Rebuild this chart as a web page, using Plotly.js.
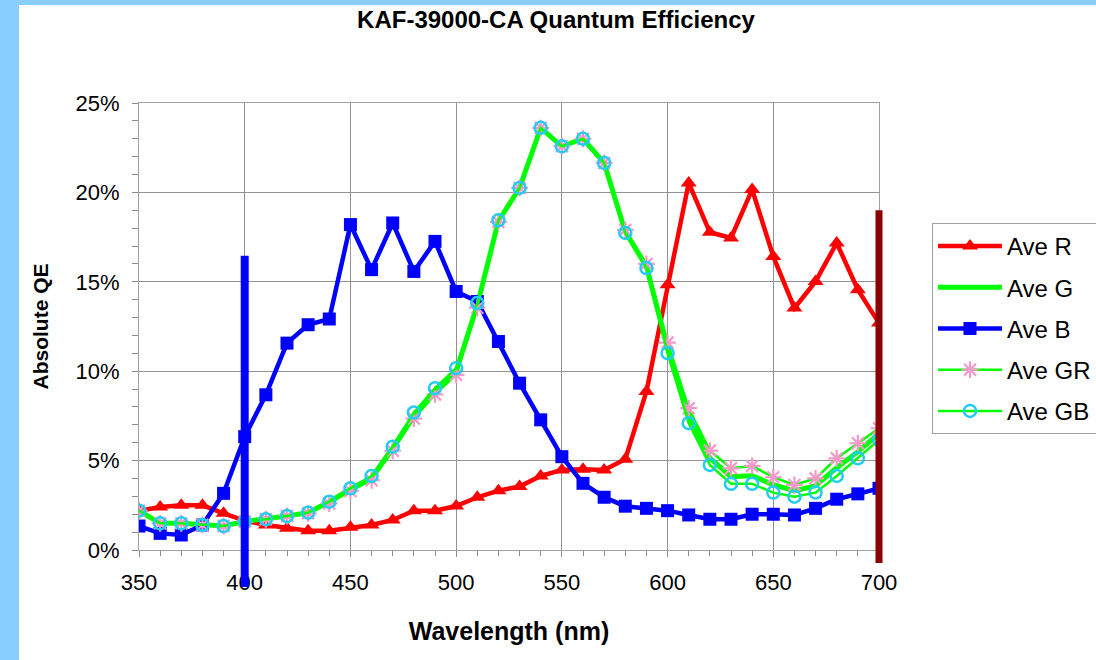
<!DOCTYPE html>
<html><head><meta charset="utf-8">
<script src="https://cdn.plot.ly/plotly-3.0.1.min.js"></script>
<style>
html,body{margin:0;padding:0;width:1096px;height:660px;overflow:hidden;background:#88CEFF;}
#bg{position:absolute;left:19px;top:5px;width:1077px;height:655px;background:#ffffff;}
#chart{position:absolute;left:0;top:0;width:1096px;height:660px;}
</style></head><body>
<div id="bg"></div><div id="chart"></div>
<script>
const wavelength = [350,360,370,380,390,400,410,420,430,440,450,460,470,480,490,500,510,520,530,540,550,560,570,580,590,600,610,620,630,640,650,660,670,680,690,700];
const aveR  = [2.2,2.4,2.5,2.5,2.05,1.64,1.4,1.21,1.08,1.08,1.27,1.4,1.68,2.2,2.2,2.46,2.95,3.32,3.55,4.14,4.48,4.52,4.48,5.08,8.87,14.84,20.53,17.77,17.45,20.16,16.42,13.53,15.02,17.17,14.56,12.69];
const aveG  = [2.2,1.49,1.49,1.4,1.34,1.59,1.72,1.9,2.09,2.7,3.4,4.05,5.7,7.55,8.9,10.0,13.7,18.4,20.25,23.6,22.58,23.0,21.65,17.8,15.85,11.3,7.5,5.15,4.1,4.15,3.65,3.3,3.6,4.6,5.5,6.5];
const aveB  = [1.34,0.93,0.84,1.4,3.17,6.34,8.68,11.57,12.6,12.92,18.2,15.68,18.29,15.58,17.26,14.46,13.9,11.66,9.33,7.28,5.22,3.73,2.95,2.45,2.33,2.2,1.96,1.72,1.72,2.0,2.0,1.96,2.33,2.84,3.14,3.45];
const aveGR = [2.2,1.49,1.49,1.4,1.34,1.59,1.72,1.9,2.05,2.6,3.3,3.9,5.55,7.35,8.7,9.8,13.55,18.35,20.25,23.6,22.58,23.0,21.65,17.9,16.0,11.6,7.93,5.56,4.57,4.7,4.07,3.64,4.01,5.13,5.97,6.81];
const aveGB = [2.2,1.49,1.49,1.4,1.34,1.59,1.72,1.9,2.09,2.7,3.45,4.14,5.78,7.69,9.05,10.17,13.81,18.44,20.25,23.61,22.58,23.0,21.65,17.73,15.77,11.01,7.09,4.76,3.7,3.7,3.21,2.98,3.21,4.14,5.13,6.16];
const seriesNames = ['Ave R','Ave G','Ave B','Ave GR','Ave GB'];
const xTickVals = [350,400,450,500,550,600,650,700];
const yTickVals = [0,5,10,15,20,25];
const yTickText = ['0%','5%','10%','15%','20%','25%'];
const cutoffX = [400,700];
const cutoffTop = [16.45,19.0];
const cutoffBottom = [-2.07,-0.73];

const xRange = [350,700], yRange = [0,25];
const FONT = 'Liberation Sans, Arial, sans-serif';

const traces = [
  {x: wavelength, y: aveR, name: seriesNames[0], legendgroup:'a', mode:'lines+markers',
   line:{color:'#FF0000', width:4.5}, marker:{symbol:'triangle-up', size:14, color:'#FF0000'}},
  {x: wavelength, y: aveG, name: seriesNames[1], legendgroup:'b', mode:'lines',
   line:{color:'#00FF00', width:5}},
  {x: wavelength, y: aveB, name: seriesNames[2], legendgroup:'c', mode:'lines+markers',
   line:{color:'#0000FF', width:4.5}, marker:{symbol:'square', size:13, color:'#0000FF'}},
  {x: wavelength, y: aveGR, name: seriesNames[3], legendgroup:'d', mode:'lines+markers',
   line:{color:'#00FF00', width:2.5}, marker:{symbol:'asterisk-open', size:14, color:'#F59AC8', line:{color:'#F59AC8', width:2.2}}},
  {x: wavelength, y: aveGB, name: seriesNames[4], legendgroup:'e', mode:'lines+markers',
   line:{color:'#00FF00', width:2.5}, marker:{symbol:'circle-open', size:12, color:'#22CCF5', line:{color:'#22CCF5', width:2.5}}}
];

const cutColors = ['#0000FF','#8B0000'];
const cutWidths = [8,7];
const shapes = cutoffX.map((v,i)=>({
  type:'line', xref:'paper', yref:'paper', layer:'above',
  x0:(v-xRange[0])/(xRange[1]-xRange[0]), x1:(v-xRange[0])/(xRange[1]-xRange[0]),
  y0:(cutoffBottom[i]-yRange[0])/(yRange[1]-yRange[0]), y1:(cutoffTop[i]-yRange[0])/(yRange[1]-yRange[0]),
  line:{color:cutColors[i], width:cutWidths[i]}
}));

const layout = {
  width:1096, height:660,
  paper_bgcolor:'rgba(0,0,0,0)', plot_bgcolor:'#ffffff',
  margin:{l:139, r:217, t:103, b:110, autoexpand:false},
  font:{family:FONT, color:'#000000', size:22},
  title:{text:'<b>KAF-39000-CA Quantum Efficiency</b>', font:{family:FONT, size:24, color:'#000'},
         x:556/1096, xref:'container', xanchor:'center', y:1-20/660, yref:'container', yanchor:'middle'},
  xaxis:{range:xRange, tickvals:xTickVals, ticks:'outside', ticklen:6, tickcolor:'#8c8c8c',
         showgrid:true, gridcolor:'#929292', gridwidth:1, zeroline:false,
         showline:true, linecolor:'#a0a0a0', linewidth:1, mirror:true,
         minor:{dtick:10, ticks:'outside', ticklen:5, tickcolor:'#8c8c8c', showgrid:false},
         tickfont:{size:22}, ticklabelstandoff:7,
         title:{text:'<b>Wavelength (nm)</b>', font:{size:25}, standoff:28}},
  yaxis:{range:yRange, tickvals:yTickVals, ticktext:yTickText, ticks:'outside', ticklen:6, tickcolor:'#8c8c8c',
         showgrid:true, gridcolor:'#929292', gridwidth:1, zeroline:false,
         showline:true, linecolor:'#a0a0a0', linewidth:1, mirror:true,
         minor:{dtick:1, ticks:'outside', ticklen:6, tickcolor:'#8c8c8c', showgrid:false},
         tickfont:{size:22}, ticklabelstandoff:8,
         title:{text:'<b>Absolute QE</b>', font:{size:21}, standoff:21}},
  legend:{x:(932-139)/740, y:(550-223)/447, xanchor:'left', yanchor:'top',
          bordercolor:'#a0a0a0', borderwidth:1, bgcolor:'#ffffff',
          font:{size:24}, itemwidth:64, tracegroupgap:7, traceorder:'grouped'},
  shapes: shapes,
  showlegend:true
};

Plotly.newPlot('chart', traces, layout, {displayModeBar:false, staticPlot:true});
</script>
</body></html>
